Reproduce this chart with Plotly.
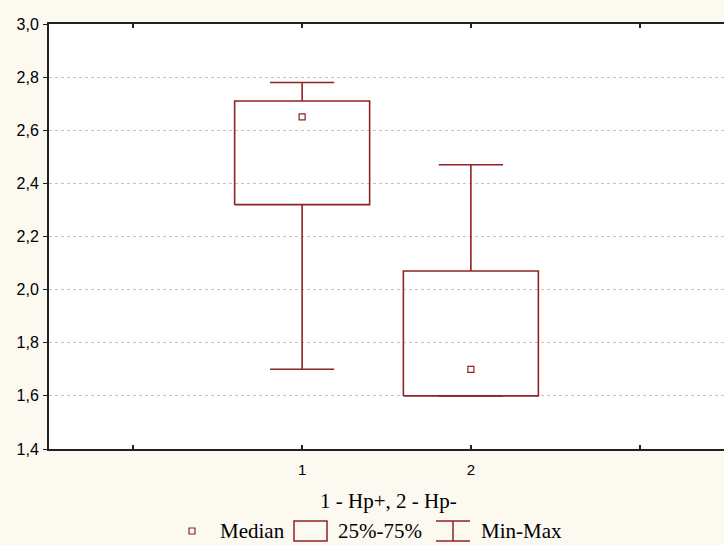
import plotly.graph_objects as go

groups = ["1", "2"]
mins = [1.70, 1.60]
q1s = [2.32, 1.60]
medians = [2.65, 1.70]
q3s = [2.71, 2.07]
maxs = [2.78, 2.47]
ytick_vals = [1.4, 1.6, 1.8, 2.0, 2.2, 2.4, 2.6, 2.8, 3.0]
x_title = "1 - Hp+, 2 - Hp-"
legend_labels = ["Median", "25%-75%", "Min-Max"]

RED = "#8E2323"
BG = "#FCF9F1"
BOX_HALF = 0.4
CAP_HALF = 0.19
SERIF = "Liberation Serif"

fig = go.Figure()

for i, g in enumerate(groups):
    xc = i + 1
    fig.add_trace(go.Scatter(
        x=[xc - BOX_HALF, xc + BOX_HALF, xc + BOX_HALF, xc - BOX_HALF, xc - BOX_HALF],
        y=[q1s[i], q1s[i], q3s[i], q3s[i], q1s[i]],
        mode="lines", line=dict(color=RED, width=1.6), hoverinfo="skip", showlegend=False))
    fig.add_trace(go.Scatter(
        x=[xc, xc, None, xc - CAP_HALF, xc + CAP_HALF],
        y=[q3s[i], maxs[i], None, maxs[i], maxs[i]],
        mode="lines", line=dict(color=RED, width=1.6), hoverinfo="skip", showlegend=False))
    fig.add_trace(go.Scatter(
        x=[xc, xc, None, xc - CAP_HALF, xc + CAP_HALF],
        y=[q1s[i], mins[i], None, mins[i], mins[i]],
        mode="lines", line=dict(color=RED, width=1.6), hoverinfo="skip", showlegend=False))

fig.add_trace(go.Scatter(
    x=[i + 1 for i in range(len(groups))], y=medians, mode="markers",
    marker=dict(symbol="square-open", size=6, color=RED, line=dict(width=1.2, color=RED)),
    showlegend=False))

L, T, W, H = 49, 24, 724, 545
PW, PH = W - L, 449 - T


def px(xp):
    return (xp - L) / PW


def py(yp):
    return (449 - yp) / PH


shapes = []
ann = []
shapes.append(dict(type="rect", xref="paper", yref="paper", x0=px(189), x1=px(195), y0=py(534), y1=py(528),
                   line=dict(color=RED, width=1.2)))
ann.append(dict(text=legend_labels[0], xref="paper", yref="paper", x=px(218), y=py(531), xanchor="left",
                yanchor="middle", showarrow=False, font=dict(family=SERIF, size=21, color="black")))
shapes.append(dict(type="rect", xref="paper", yref="paper", x0=px(294), x1=px(327), y0=py(541), y1=py(521),
                   line=dict(color=RED, width=1.5)))
ann.append(dict(text=legend_labels[1], xref="paper", yref="paper", x=px(336), y=py(531), xanchor="left",
                yanchor="middle", showarrow=False, font=dict(family=SERIF, size=21, color="black")))
shapes.append(dict(type="line", xref="paper", yref="paper", x0=px(436), x1=px(470), y0=py(521), y1=py(521),
                   line=dict(color=RED, width=1.5)))
shapes.append(dict(type="line", xref="paper", yref="paper", x0=px(436), x1=px(470), y0=py(541), y1=py(541),
                   line=dict(color=RED, width=1.5)))
shapes.append(dict(type="line", xref="paper", yref="paper", x0=px(453), x1=px(453), y0=py(521), y1=py(541),
                   line=dict(color=RED, width=1.5)))
ann.append(dict(text=legend_labels[2], xref="paper", yref="paper", x=px(479), y=py(531), xanchor="left",
                yanchor="middle", showarrow=False, font=dict(family=SERIF, size=21, color="black")))
ann.append(dict(text=x_title, xref="paper", yref="paper", x=px(388), y=py(501), xanchor="center",
                yanchor="middle", showarrow=False, font=dict(family=SERIF, size=21, color="black")))

fig.update_layout(
    width=W, height=H,
    margin=dict(l=L, r=0, t=T, b=H - 449, pad=0),
    paper_bgcolor=BG, plot_bgcolor="white",
    separators=", ",
    showlegend=False,
    shapes=shapes, annotations=ann,
    font=dict(family="Liberation Sans", size=14, color="black"),
    xaxis=dict(range=[-0.5, 3.5], tickvals=[0, 1, 2, 3], ticktext=["", groups[0], groups[1], ""],
               ticks="inside", ticklen=4, tickwidth=1.5, tickcolor="#222", showline=True, linecolor="#222",
               linewidth=2, mirror="allticks", showgrid=False, zeroline=False,
               tickfont=dict(size=15), ticklabelstandoff=6),
    yaxis=dict(range=[1.4, 3.0], tickvals=ytick_vals, tickformat=".1f", ticks="outside", ticklen=4,
               tickwidth=1, tickcolor="#222", showline=True, linecolor="#222", linewidth=2,
               showgrid=True, gridcolor="#C4C4C4", griddash="dot", gridwidth=1, zeroline=False,
               tickfont=dict(size=16), ticklabelstandoff=1),
)

fig.write_html("out.html", config={"displayModeBar": False},
               post_script="document.body.style.margin='0';document.body.style.overflow='hidden';")
